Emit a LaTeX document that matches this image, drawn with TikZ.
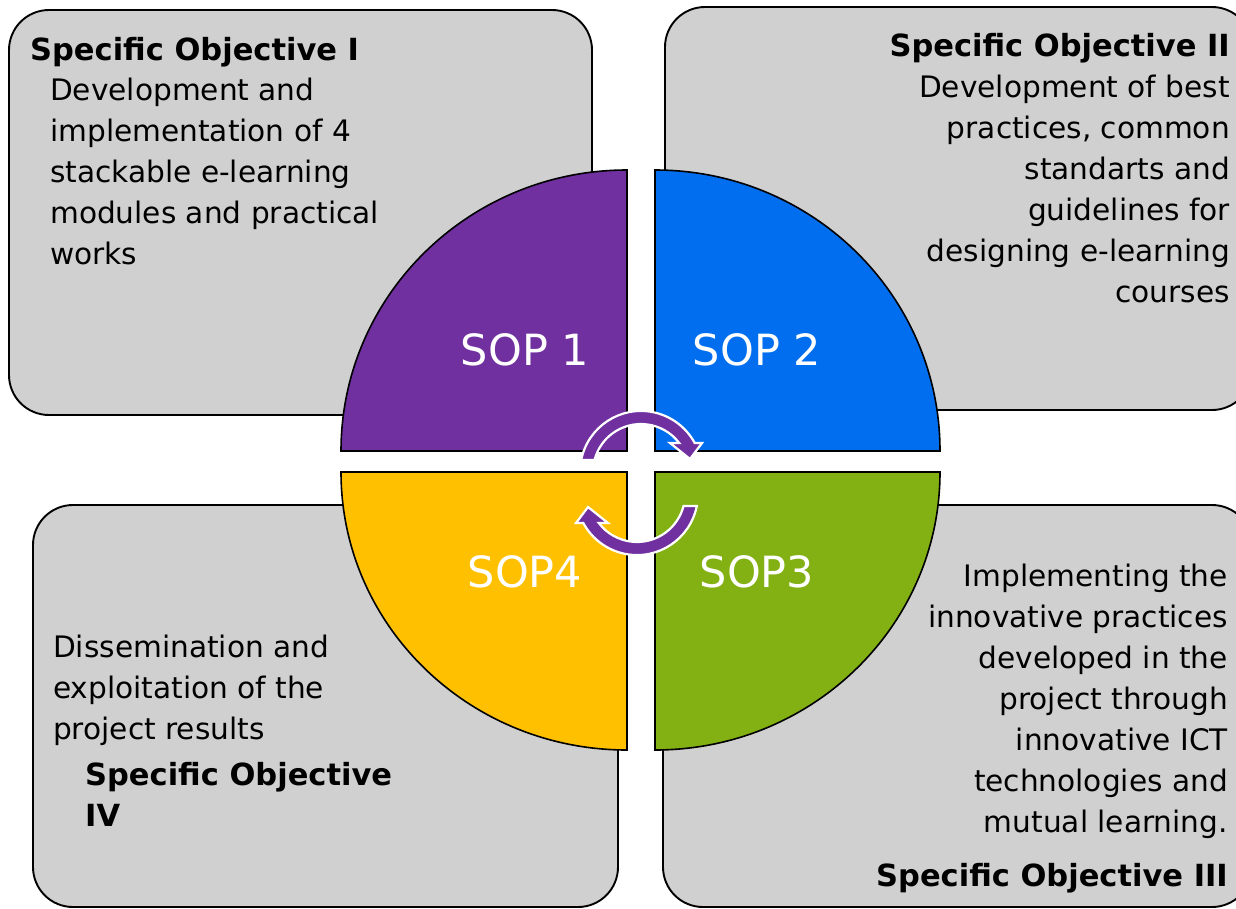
\documentclass[tikz,border=0pt]{standalone}
\usepackage{fontspec}
\setmainfont{DejaVu Sans}
\definecolor{boxgray}{HTML}{D0D0D0}
\definecolor{sopPurple}{HTML}{7030A0}
\definecolor{sopBlue}{HTML}{006EEE}
\definecolor{sopYellow}{HTML}{FFC000}
\definecolor{sopGreen}{HTML}{83B013}
\begin{document}
\begin{tikzpicture}[x=1pt,y=-1pt]
\tikzset{
 objbox/.style={draw=black, line width=1.9pt, fill=boxgray, rounded corners=40pt},
 quad/.style={draw=black, line width=1.6pt},
 sop/.style={text=white, font=\fontsize{43}{52}\selectfont, inner sep=0pt},
 body/.style={font=\fontsize{29.6}{41}\selectfont, inner sep=0pt},
 ttl/.style={font=\bfseries\fontsize{30.5}{41}\selectfont, inner sep=0pt},
 cyc/.style={fill=sopPurple, draw=white, line width=2.2pt, line join=miter}
}
\useasboundingbox (0,0) rectangle (1236,908);
\fill[white] (0,0) rectangle (1236,908);
% objective boxes
\path[objbox] (9,10) rectangle (592,415);
\path[objbox] (665,7) rectangle (1252,410);
\path[objbox] (33,505) rectangle (618,907);
\path[objbox] (663,505) rectangle (1252,907);
% quarter discs
\path[quad, fill=sopPurple] (627,451) -- (341,451) arc[start angle=180,end angle=270,x radius=286,y radius=281] -- cycle;
\path[quad, fill=sopBlue] (655,451) -- (655,170) arc[start angle=270,end angle=360,x radius=285,y radius=281] -- cycle;
\path[quad, fill=sopGreen] (655,472) -- (940,472) arc[start angle=0,end angle=90,x radius=285,y radius=278] -- cycle;
\path[quad, fill=sopYellow] (627,472) -- (627,750) arc[start angle=90,end angle=180,x radius=286,y radius=278] -- cycle;
% cycle arrows
\path[cyc] (581.2,460) arc[start angle=191.3,end angle=331.6,radius=61] -- (702,443) -- (690,459) -- (670,443) -- (679.2,443) arc[start angle=322.8,end angle=194.5,radius=48] -- cycle;
\begin{scope}[rotate around={180:(639,483)}]
\path[cyc] (581.2,460) arc[start angle=191.3,end angle=331.6,radius=61] -- (702,443) -- (690,459) -- (670,443) -- (679.2,443) arc[start angle=322.8,end angle=194.5,radius=48] -- cycle;
\end{scope}
% SOP labels
\node[sop] (s1) at (525,350) {SOP 1};
\node[sop] (s2) at (757,350) {SOP 2};
\node[sop] (s4) at (525,572) {SOP4};
\node[sop] (s3) at (757,572) {SOP3};
% texts (base anchor = baseline of last line)
\node[ttl, anchor=base west] (t1) at (30,60) {Specific Objective I};
\node[body, anchor=base west, align=left] (d1) at (50,264) {Development and\\implementation of 4\\stackable e-learning\\modules and practical\\works};
\node[ttl, anchor=base east] (t2) at (1230,56) {Specific Objective II};
\node[body, anchor=base east, align=right] (d2) at (1230,302) {Development of best\\practices, common\\standarts and\\guidelines for\\designing e-learning\\courses};
\node[body, anchor=base east, align=right] (d3) at (1228,832) {Implementing the\\innovative practices\\developed in the\\project through\\innovative ICT\\technologies and\\mutual learning.};
\node[ttl, anchor=base east] (t3) at (1228,886) {Specific Objective III};
\node[body, anchor=base west, align=left] (d4) at (53,739) {Dissemination and\\exploitation of the\\project results};
\node[ttl, anchor=base west, align=left] (t4) at (85,826) {Specific Objective\\IV};
\end{tikzpicture}
\end{document}
